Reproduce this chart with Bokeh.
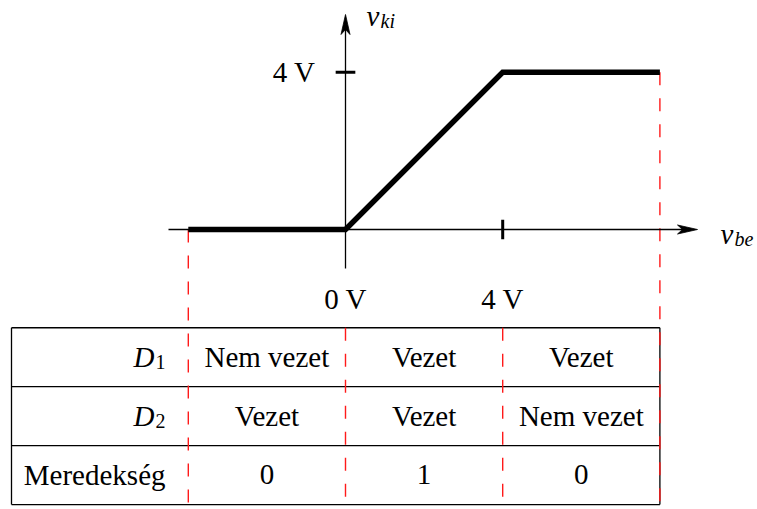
from bokeh.plotting import figure
from bokeh.models import Range1d
from bokeh.core.properties import value
from bokeh.embed import file_html
from bokeh.resources import INLINE

# --- data -------------------------------------------------------------
# break points of the transfer characteristic (input voltage, V)
v_in = [-4, 0, 4, 8]
# output voltage at those break points (V)
v_out = [0, 0, 4, 4]

x_tick_pos = [0, 4]
x_tick_labels = ["0 V", "4 V"]
y_tick_pos = [4]
y_tick_labels = ["4 V"]

# table rows: state of each diode and the slope in every input region
row_names = ["D", "D", "Meredekség"]
row_subs = ["1", "2", ""]
d1_state = ["Nem vezet", "Vezet", "Vezet"]
d2_state = ["Vezet", "Vezet", "Nem vezet"]
slope = [0, 1, 0]

# --- layout helpers ----------------------------------------------------
S = 39.3            # pixels per volt on both axes
OX, OY = 345, 229   # pixel position of the origin
W, H = 757, 509


def vx(px):
    return (px - OX) / S


def vy(py):
    return (OY - py) / S


FONT = value("Liberation Serif")
FS = "29px"
FS_SUB = "20px"

p = figure(width=W, height=H, x_range=Range1d(vx(0), vx(W)),
           y_range=Range1d(vy(H), vy(0)), x_axis_type=None, y_axis_type=None,
           output_backend="svg", toolbar_location=None, min_border=0)
p.grid.visible = False
p.outline_line_color = None
p.background_fill_color = "white"

# --- table ---------------------------------------------------------------
row_edges = [-2.5, -4.0, -5.5, -7.0]
tab_left = vx(11)
tab_right = v_in[-1]
p.multi_line(xs=[[tab_left, tab_right]] * len(row_edges),
             ys=[[y, y] for y in row_edges], line_color="black", line_width=1.3)
p.multi_line(xs=[[tab_left, tab_left], [tab_right, tab_right]],
             ys=[[row_edges[0], row_edges[-1]]] * 2, line_color="black", line_width=1.3)

# red dashed guides at the break points
guide_tops = [0, row_edges[0], row_edges[0], v_out[-1]]
p.multi_line(xs=[[x, x] for x in v_in],
             ys=[[t, row_edges[-1]] for t in guide_tops],
             line_color="#ff1a1a", line_width=1.4, line_dash="13 13")

# --- axes ----------------------------------------------------------------
x_tip, y_tip = vx(697), vy(14)
p.line([vx(168), x_tip - 10 / S], [0, 0], line_color="black", line_width=1.3)
p.line([0, 0], [vy(268), y_tip - 10 / S], line_color="black", line_width=1.3)

# stealth-style arrow heads (length 20 px, width 9 px, notch 5 px)
L, HW, N = 20 / S, 4.5 / S, 15 / S
p.patches(xs=[[x_tip, x_tip - L, x_tip - N, x_tip - L], [0, HW, 0, -HW]],
          ys=[[0, HW, 0, -HW], [y_tip, y_tip - L, y_tip - N, y_tip - L]],
          fill_color="black", line_color="black", line_width=0.8)

# tick marks
tk = 0.25
p.segment(x0=x_tick_pos[1:], y0=[-tk], x1=x_tick_pos[1:], y1=[tk],
          line_color="black", line_width=3)
p.segment(x0=[-tk] * len(y_tick_pos), y0=y_tick_pos, x1=[tk] * len(y_tick_pos),
          y1=y_tick_pos, line_color="black", line_width=3)

# transfer characteristic
p.line(v_in, v_out, line_color="black", line_width=5.5, line_join="miter")

# --- texts -----------------------------------------------------------------
TXT = dict(text_font=FONT, text_baseline="alphabetic", text_color="black")

p.text(x=x_tick_pos, y=[vy(298)] * len(x_tick_pos), text=x_tick_labels,
       text_font_size=FS, text_align="center", **TXT)
p.text(x=[vx(315)] * len(y_tick_pos), y=[yy + 0.5 / S for yy in y_tick_pos],
       text=y_tick_labels, text_font_size=FS, text_align="right", **TXT)

# axis names v_ki and v_be
p.text(x=[vx(366), vx(720)], y=[vy(15), vy(233)], text=["v", "v"],
       text_font_size=FS, text_font_style="italic", text_align="left", **TXT)
p.text(x=[vx(380), vx(734)], y=[vy(20), vy(238)], text=["ki", "be"],
       text_font_size=FS_SUB, text_font_style="italic", text_align="left", **TXT)

# table contents
base_off = -0.5 / S
row_base = [(row_edges[i] + row_edges[i + 1]) / 2 - base_off for i in range(3)]
col_mid = [(v_in[i] + v_in[i + 1]) / 2 for i in range(3)]
label_right = vx(165)

for r, (name, sub) in enumerate(zip(row_names, row_subs)):
    if sub:
        p.text(x=[label_right - 11 / S], y=[row_base[r]], text=[name],
               text_font_size=FS, text_font_style="italic", text_align="right", **TXT)
        p.text(x=[label_right - 10 / S], y=[row_base[r] - 5 / S], text=[sub],
               text_font_size=FS_SUB, text_align="left", **TXT)
    else:
        p.text(x=[label_right], y=[row_base[r]], text=[name],
               text_font_size=FS, text_align="right", **TXT)

for r, cells in enumerate([d1_state, d2_state, [str(s) for s in slope]]):
    p.text(x=col_mid, y=[row_base[r]] * len(cells), text=cells,
           text_font_size=FS, text_align="center", **TXT)

open("out.html", "w").write(file_html(p, INLINE))
